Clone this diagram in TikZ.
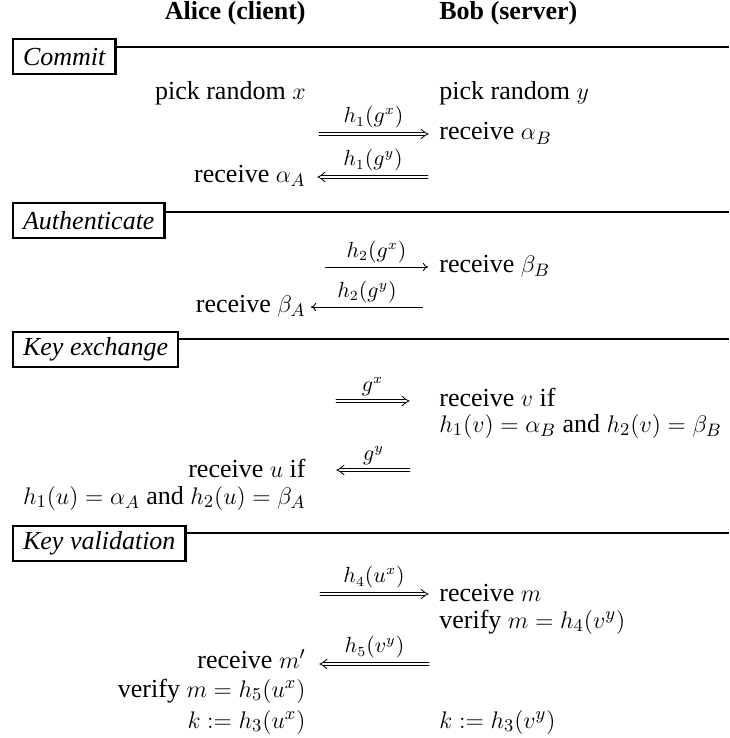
\documentclass[tikz,border=0pt]{standalone}
\usepackage{fontspec}
\setmainfont{Liberation Serif}
\usetikzlibrary{arrows.meta}
\tikzset{
  txt/.style={font=\fontsize{13}{15}\selectfont, inner sep=0pt},
  L/.style={txt, anchor=base east},
  R/.style={txt, anchor=base west},
  hdr/.style={txt, font=\fontsize{13}{15}\selectfont\bfseries},
  secbox/.style={draw, line width=1.1pt, anchor=north west, font=\fontsize{13}{15}\selectfont\itshape,
     minimum height=17.5pt, inner xsep=5pt, inner ysep=2pt},
  secline/.style={line width=1pt},
  dl/.style={line width=0.42pt, line cap=round},
  sgl/.style={line width=0.45pt, -{To[length=2.5pt,width=4pt]}},
  lbl/.style={above, inner sep=2pt, font=\fontsize{10.5}{12}\selectfont},
  dlbl/.style={above, inner sep=2.6pt, font=\fontsize{10.5}{12}\selectfont}
}
% #1 start coordinate, #2 tip coordinate, #3 direction (1 = right, -1 = left), #4 label
\newcommand\dblarrow[4]{%
  \draw[dl] ([yshift=0.8pt]#1) -- ([xshift=#3*(-1.6pt), yshift=0.8pt]#2);
  \draw[dl] ([yshift=-0.8pt]#1) -- ([xshift=#3*(-1.6pt), yshift=-0.8pt]#2);
  \draw[dl] ([xshift=#3*(-3.5pt), yshift=2.4pt]#2) .. controls ([xshift=#3*(-1.4pt), yshift=0.6pt]#2) .. (#2)
            .. controls ([xshift=#3*(-1.4pt), yshift=-0.6pt]#2) .. ([xshift=#3*(-3.5pt), yshift=-2.4pt]#2);
  \path (#1) -- node[dlbl] {#4} (#2);
}
\begin{document}
\begin{tikzpicture}[x=0.5pt,y=-0.5pt]
\useasboundingbox (0,0) rectangle (729,738);
% headers
\node[hdr, anchor=base east] (alice) at (306,20) {Alice (client)};
\node[hdr, anchor=base west] (bob) at (439,20) {Bob (server)};
% Commit
\node[secbox] (s1) at (12,38) {Commit};
\coordinate (e1) at (729,47);
\draw[secline] (s1.east |- e1) -- (e1);
\node[L] (pa) at (306,100) {pick random $x$};
\node[R] (pb) at (439,100) {pick random $y$};
\coordinate (a1s) at (319,134); \coordinate (a1e) at (428,134);
\dblarrow{a1s}{a1e}{1}{$h_1(g^x)$}
\node[R] (rb1) at (439,140) {receive $\alpha_B$};
\coordinate (a2s) at (428,177); \coordinate (a2e) at (318,177);
\dblarrow{a2s}{a2e}{-1}{$h_1(g^y)$}
\node[L] (ra1) at (306,182) {receive $\alpha_A$};
% Authenticate
\node[secbox] (s2) at (12,202) {Authenticate};
\coordinate (e2) at (729,212);
\draw[secline] (s2.east |- e2) -- (e2);
\coordinate (a3s) at (325,267); \coordinate (a3e) at (428,267);
\draw[sgl] (a3s) -- node[lbl] (l3) {$h_2(g^x)$} (a3e);
\node[R] (rb2) at (439,272) {receive $\beta_B$};
\coordinate (a4s) at (423,307); \coordinate (a4e) at (311,307);
\draw[sgl] (a4s) -- node[lbl] (l4) {$h_2(g^y)$} (a4e);
\node[L] (ra2) at (306,312) {receive $\beta_A$};
% Key exchange
\node[secbox] (s3) at (12,331) {Key exchange};
\coordinate (e3) at (729,339);
\draw[secline] (s3.east |- e3) -- (e3);
\coordinate (a5s) at (336,401); \coordinate (a5e) at (409,401);
\dblarrow{a5s}{a5e}{1}{$g^x$}
\node[R] (rb3) at (439,406) {receive $v$ if};
\node[R] (rb4) at (439,432) {$h_1(v)=\alpha_B$ and $h_2(v)=\beta_B$};
\coordinate (a6s) at (410,470); \coordinate (a6e) at (337,470);
\dblarrow{a6s}{a6e}{-1}{$g^y$}
\node[L] (ra3) at (306,477) {receive $u$ if};
\node[L] (ra4) at (306,504) {$h_1(u)=\alpha_A$ and $h_2(u)=\beta_A$};
% Key validation
\node[secbox] (s4) at (12,525) {Key validation};
\coordinate (e4) at (729,533);
\draw[secline] (s4.east |- e4) -- (e4);
\coordinate (a7s) at (320,594); \coordinate (a7e) at (428,594);
\dblarrow{a7s}{a7e}{1}{$h_4(u^x)$}
\node[R] (rb5) at (439,601) {receive $m$};
\node[R] (rb6) at (439,628) {verify $m=h_4(v^y)$};
\coordinate (a8s) at (429,664); \coordinate (a8e) at (320,664);
\dblarrow{a8s}{a8e}{-1}{$h_5(v^y)$}
\node[L] (ra5) at (306,668) {receive $m'$};
\node[L] (ra6) at (306,697) {verify $m=h_5(u^x)$};
\node[L] (ra7) at (306,728) {$k:=h_3(u^x)$};
\node[R] (rb7) at (439,728) {$k:=h_3(v^y)$};
\end{tikzpicture}
\end{document}
